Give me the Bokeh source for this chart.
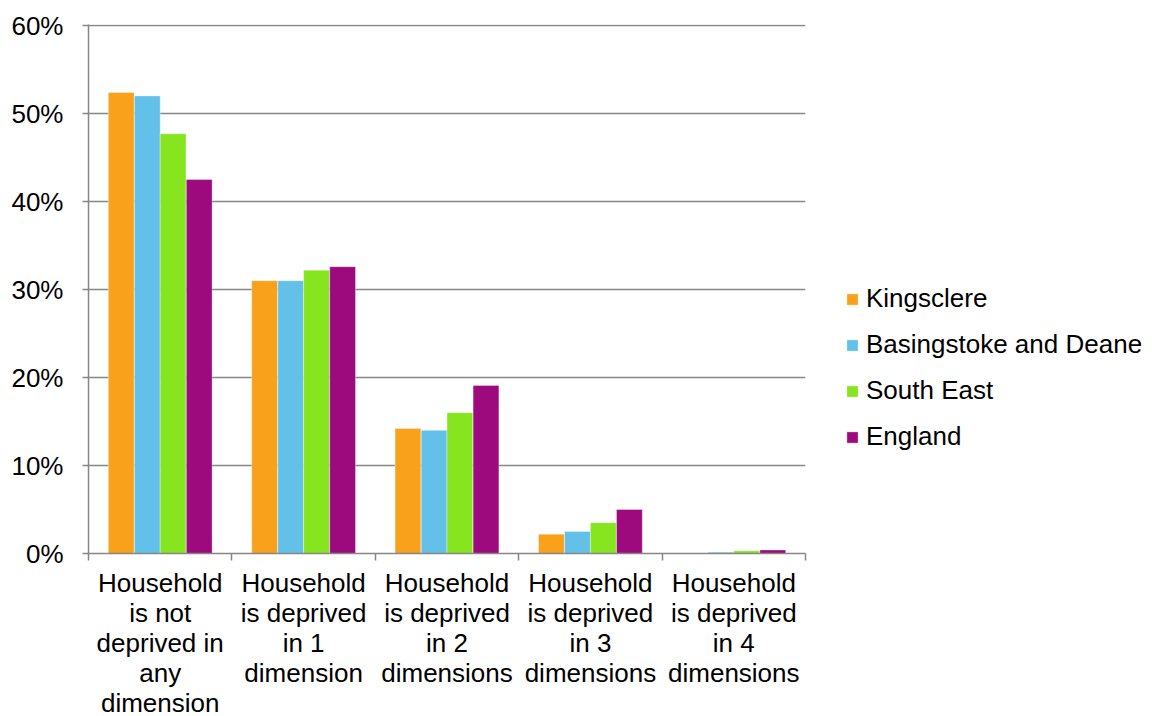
from bokeh.plotting import figure
from bokeh.models import ColumnDataSource, FixedTicker, Legend, LegendItem, NumeralTickFormatter
from bokeh.transform import dodge
from bokeh.embed import file_html
from bokeh.resources import INLINE

categories = [
    "Household\nis not\ndeprived in\nany\ndimension",
    "Household\nis deprived\nin 1\ndimension",
    "Household\nis deprived\nin 2\ndimensions",
    "Household\nis deprived\nin 3\ndimensions",
    "Household\nis deprived\nin 4\ndimensions",
]
series_names = ["Kingsclere", "Basingstoke and Deane", "South East", "England"]
kingsclere = [0.524, 0.310, 0.142, 0.022, 0.0005]
basingstoke = [0.520, 0.310, 0.140, 0.025, 0.0015]
south_east = [0.477, 0.322, 0.160, 0.035, 0.003]
england = [0.425, 0.326, 0.191, 0.050, 0.004]
colors = ["#F9A11B", "#63C0E8", "#86E51F", "#9C0A7D"]
y_ticks = [0, 0.1, 0.2, 0.3, 0.4, 0.5, 0.6]

xpos = [i + 0.5 for i in range(len(categories))]
src = ColumnDataSource(dict(x=xpos, k=kingsclere, b=basingstoke, s=south_east, e=england))

p = figure(width=1152, height=716, x_range=(0, 5), y_range=(0, 0.6012),
           output_backend="svg", toolbar_location=None,
           min_border_left=88, min_border_right=347, min_border_top=24, min_border_bottom=163)
p.frame_width = 717
p.frame_height = 529
p.background_fill_color = "white"
p.outline_line_color = None

offsets = [-0.272, -0.09, 0.09, 0.272]
renderers = []
for col, off, c in zip(["k", "b", "s", "e"], offsets, colors):
    r = p.vbar(x=dodge("x", off, range=p.x_range), top=col, width=0.18, bottom=0,
               source=src, fill_color=c, line_color="white", line_width=0.6, line_alpha=0.6)
    renderers.append(r)

FONT = "Liberation Sans"
FS = "26px"

# x axis
p.xaxis.ticker = FixedTicker(ticks=xpos, minor_ticks=[0, 1, 2, 3, 4, 5])
p.xaxis.major_label_overrides = {x: lab for x, lab in zip(xpos, categories)}
p.xaxis.major_tick_line_color = None
p.xaxis.major_tick_out = 0
p.xaxis.major_tick_in = 0
p.xaxis.minor_tick_out = 7
p.xaxis.minor_tick_in = 0
p.xaxis.minor_tick_line_color = "#868686"
p.xaxis.minor_tick_line_width = 1.5
p.xaxis.axis_line_color = "#868686"
p.xaxis.axis_line_width = 1.5
p.xaxis.major_label_text_font = FONT
p.xaxis.major_label_text_font_size = FS
p.xaxis.major_label_text_color = "black"
p.xaxis.major_label_text_line_height = 1.0
p.xaxis.major_label_standoff = 7

# y axis
p.yaxis.ticker = FixedTicker(ticks=y_ticks)
p.yaxis.formatter = NumeralTickFormatter(format="0%")
p.yaxis.major_tick_out = 6
p.yaxis.major_tick_in = 0
p.yaxis.minor_tick_line_color = None
p.yaxis.major_tick_line_color = "#868686"
p.yaxis.major_tick_line_width = 1.5
p.yaxis.axis_line_color = "#868686"
p.yaxis.axis_line_width = 1.5
p.yaxis.major_label_text_font = FONT
p.yaxis.major_label_text_font_size = FS
p.yaxis.major_label_text_color = "black"
p.yaxis.major_label_standoff = 19

p.xgrid.grid_line_color = None
p.ygrid.ticker = FixedTicker(ticks=y_ticks)
p.ygrid.grid_line_color = "#868686"
p.ygrid.grid_line_width = 1.3

items = [LegendItem(label=n, renderers=[r]) for n, r in zip(series_names, renderers)]
legend = Legend(items=items, location=(40, 101), glyph_width=14, glyph_height=14,
                label_text_font=FONT, label_text_font_size=FS,
                label_text_color="black", spacing=15, padding=0, margin=0,
                border_line_color=None, background_fill_alpha=0, label_standoff=7)
p.add_layout(legend, "right")

open("out.html", "w").write(file_html(p, INLINE))
